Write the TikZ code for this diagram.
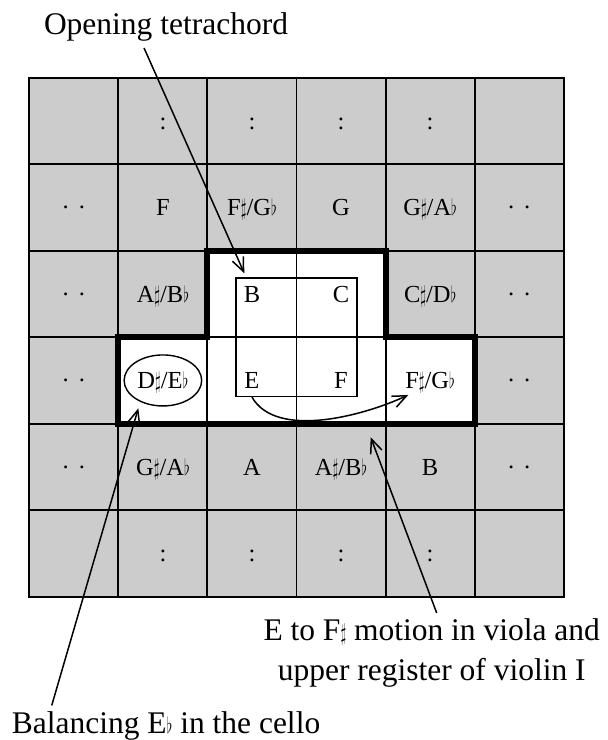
\documentclass[tikz,border=0pt]{standalone}
\usepackage{fontspec}
\setmainfont{Liberation Serif}
\usetikzlibrary{arrows.meta,fit,shapes.geometric}
\newcommand{\shp}{\scalebox{.6}[.95]{$\sharp$}}
\newcommand{\flt}{\scalebox{.6}[.9]{$\flat$}}
\newcommand{\enh}[2]{#1\shp/#2\flt}
\newcommand{\twodots}{\textperiodcentered\hspace{8pt}\textperiodcentered}
\begin{document}
\begin{tikzpicture}[x=89.07pt,y=86.5pt,
    pitch/.style={font=\fontsize{24.5}{28}\selectfont, text height=16.2pt, text depth=0pt, inner sep=2pt},
    note/.style={font=\fontsize{31.5}{40}\selectfont, inner sep=3pt},
    pointer/.style={line width=1.5pt, -{Straight Barb[length=14pt,width=12pt]}}]
  \useasboundingbox (-29.3pt,-143.3pt) rectangle (578.7pt,596.7pt);
  % the board of pitches
  \fill[black!20] (0,0) rectangle (6,6);
  \fill[white] (2,4) -- (4,4) -- (4,3) -- (5,3) -- (5,2) -- (1,2) -- (1,3) -- (2,3) -- cycle;
  \foreach \k in {0,...,6} {
    \draw[line width=1.9pt, line cap=rect] (\k,0) -- (\k,6);
    \draw[line width=1.9pt, line cap=rect] (0,\k) -- (6,\k);
  }
  \draw[line width=6pt] (2,4) -- (4,4) -- (4,3) -- (5,3) -- (5,2) -- (1,2) -- (1,3) -- (2,3) -- cycle;
  % column / row (from top left) / name
  \foreach \c/\r/\txt in {1/0/:, 2/0/:, 3/0/:, 4/0/:,
      0/1/\twodots, 1/1/F, 2/1/\enh{F}{G}, 3/1/G, 4/1/\enh{G}{A}, 5/1/\twodots,
      0/2/\twodots, 1/2/\enh{A}{B}, 4/2/\enh{C}{D}, 5/2/\twodots,
      0/3/\twodots, 5/3/\twodots,
      0/4/\twodots, 1/4/\enh{G}{A}, 2/4/A, 3/4/\enh{A}{B}, 4/4/B, 5/4/\twodots,
      1/5/:, 2/5/:, 3/5/:, 4/5/:}
    \node[pitch] (p-\c-\r) at (\c+.5,5.5-\r) {\txt};
  \node[pitch] (B) at (2.5,3.5) {B};
  \node[pitch] (C) at (3.5,3.5) {C};
  \node[pitch] (E) at (2.5,2.5) {E};
  \node[pitch] (F) at (3.5,2.5) {F};
  \node[pitch] (Fs) at (4.5,2.5) {\enh{F}{G}};
  \node[pitch, ellipse, draw, line width=1.4pt, minimum width=72pt, minimum height=51pt] (Eflat) at (1.5,2.5) {\enh{D}{E}};
  \node[draw, line width=1.4pt, fit=(B.center)(F.center), inner sep=16pt] (tetrachord) {};
  % remarks
  \node[note, anchor=base] (opening) at (1.535,6.494) {Opening tetrachord};
  \node[note, anchor=north, align=center] (motion) at (4.518,-0.217) {E to F\shp{} motion in viola and\\upper register of violin I};
  \node[note, anchor=base west] (balance) at (-0.231,-1.587) {Balancing E\flt{} in the cello};
  \coordinate (openTip) at (2.414,3.739);
  \coordinate (motionTip) at (3.833,1.843);
  \coordinate (celloTip) at (1.224,2.178);
  \coordinate (slideTip) at (4.255,2.332);
  \draw[pointer] ([xshift=-22pt,yshift=-3pt]opening.south) -- (openTip);
  \draw[pointer] ([xshift=5pt,yshift=2.5pt]motion.north) -- (motionTip);
  \draw[pointer] ([xshift=43pt,yshift=3.5pt]balance.north west) -- (celloTip);
  \draw[pointer] (E |- tetrachord.south) to[out=-60,in=205,looseness=.8] (slideTip);
\end{tikzpicture}
\end{document}
